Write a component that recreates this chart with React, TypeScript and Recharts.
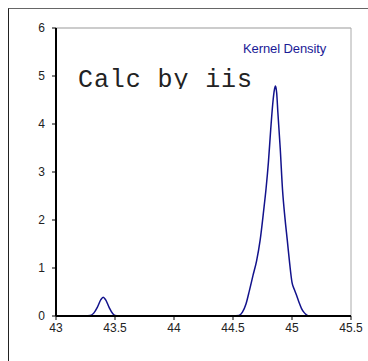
import { Line, LineChart, ReferenceLine, XAxis, YAxis } from "recharts";

const xs = [
  43.0, 43.25, 43.29, 43.32, 43.35, 43.38, 43.4, 43.42, 43.45, 43.48, 43.5, 43.53,
  44.5, 44.55, 44.58, 44.61, 44.64, 44.67, 44.7, 44.73, 44.76, 44.78, 44.8, 44.82,
  44.84, 44.85, 44.86, 44.87, 44.88, 44.9, 44.92, 44.94, 44.96, 44.98, 45.0, 45.02,
  45.04, 45.06, 45.08, 45.1, 45.12, 45.14, 45.5,
];
const density = [
  0, 0, 0.01, 0.06, 0.18, 0.34, 0.39, 0.34, 0.18, 0.05, 0.01, 0,
  0, 0.01, 0.08, 0.25, 0.54, 0.85, 1.15, 1.58, 2.2, 2.65, 3.2, 3.9,
  4.5, 4.7, 4.79, 4.65, 4.25, 3.5, 2.62, 2.05, 1.58, 1.1, 0.7, 0.55,
  0.42, 0.28, 0.16, 0.08, 0.03, 0, 0,
];
const xTicks = [43, 43.5, 44, 44.5, 45, 45.5];
const yTicks = [0, 1, 2, 3, 4, 5, 6];

const data = xs.map((x, i) => ({ x, y: density[i] }));

const tickStyle = { fontSize: 12, fill: "#222", fontFamily: "Liberation Sans, Arial, sans-serif" };

export default function App() {
  return (
    <div
      style={{
        position: "fixed",
        left: 0,
        top: 0,
        width: 368,
        height: 361,
        overflow: "hidden",
        background: "#fff",
      }}
    >
      {/* outer frame that runs off the right and bottom edges */}
      <div
        style={{
          position: "absolute",
          left: 8,
          top: 8,
          width: 400,
          height: 400,
          borderLeft: "1px solid #222",
          borderTop: "1px solid #666",
        }}
      />
      <LineChart
        width={368}
        height={361}
        data={data}
        margin={{ top: 28, right: 17, left: 16, bottom: 15 }}
        style={{ position: "absolute", left: 0, top: 0 }}
      >
        <XAxis
          type="number"
          dataKey="x"
          domain={[43, 45.5]}
          ticks={xTicks}
          allowDataOverflow
          height={30}
          tick={tickStyle}
          tickSize={4}
          tickMargin={3}
          axisLine={{ stroke: "#000", strokeWidth: 2 }}
          tickLine={{ stroke: "#000" }}
        />
        <YAxis
          type="number"
          domain={[0, 6]}
          ticks={yTicks}
          width={40}
          tick={tickStyle}
          tickSize={4}
          tickMargin={7}
          axisLine={{ stroke: "#000", strokeWidth: 2 }}
          tickLine={{ stroke: "#000" }}
        />
        <ReferenceLine y={6} stroke="#999" />
        <ReferenceLine x={45.5} stroke="#aaa" />
        <Line
          type="monotone"
          dataKey="y"
          name="Kernel Density"
          stroke="#12128c"
          strokeWidth={1.5}
          dot={false}
          isAnimationActive={false}
        />
      </LineChart>
      <div
        style={{
          position: "absolute",
          left: 243,
          top: 41,
          fontFamily: "Liberation Sans, Arial, sans-serif",
          fontSize: 13,
          lineHeight: "15px",
          color: "#1a1a96",
          letterSpacing: -0.1,
          whiteSpace: "pre",
        }}
      >
        Kernel Density
      </div>
      <div
        style={{
          position: "absolute",
          left: 78,
          top: 68,
          height: 21,
          overflow: "hidden",
          fontFamily: "Liberation Mono, Courier New, monospace",
          fontSize: 25,
          lineHeight: "25px",
          letterSpacing: 0.9,
          color: "#222",
          whiteSpace: "pre",
        }}
      >
        Calc by iis
      </div>
    </div>
  );
}
